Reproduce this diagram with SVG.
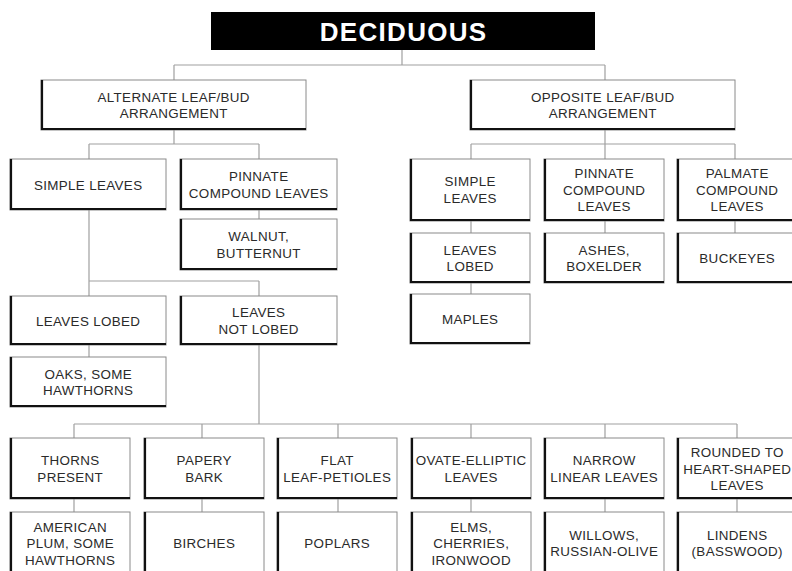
<svg xmlns="http://www.w3.org/2000/svg" width="792" height="571" viewBox="0 0 792 571">
<style>
  .bg { fill: #ffffff; }
  .box { fill: #ffffff; stroke: #8a8a8a; stroke-width: 1; }
  .sh { fill: none; stroke: #111111; stroke-width: 2.2; }
  .conn { fill: none; stroke: #a0a0a0; stroke-width: 1.2; }
  .t { font-family: "Liberation Sans", Arial, sans-serif; font-size: 13.4px; letter-spacing: 0.35px; fill: #2a2a2a; text-anchor: middle; }
  .title { font-family: "Liberation Sans", Arial, sans-serif; font-size: 26px; font-weight: bold; letter-spacing: 1.3px; fill: #ffffff; text-anchor: middle; }
</style>
<rect class="bg" x="0" y="0" width="792" height="571"/>

<g id="connectors">
  <path class="conn" d="M402,50 V65 M174,65 H605 M174,65 V80 M605,65 V80"/>
  <path class="conn" d="M174,130 V144 M89,144 H259 M89,144 V159 M259,144 V159"/>
  <path class="conn" d="M259,210 V219"/>
  <path class="conn" d="M89,210 V281 M89,281 H259 M89,281 V296 M259,281 V296"/>
  <path class="conn" d="M89,345 V357"/>
  <path class="conn" d="M259,345 V424 M74,424 H737 M74,424 V438 M202,424 V438 M338,424 V438 M471,424 V438 M605,424 V438 M737,424 V438"/>
  <path class="conn" d="M74,499 V512 M202,499 V512 M338,499 V512 M471,499 V512 M605,499 V512 M737,499 V512"/>
  <path class="conn" d="M605,130 V144 M471,144 H735 M471,144 V159 M605,144 V159 M735,144 V159"/>
  <path class="conn" d="M471,221 V233 M605,221 V233 M735,221 V233 M471,283 V294"/>
</g>

<g id="deciduous">
  <rect x="211" y="12" width="384" height="38" fill="#000000"/>
  <text class="title" x="403.6" y="41">DECIDUOUS</text>
</g>

<g id="alternate">
  <rect class="box" x="41" y="80" width="265" height="50"/>
  <path class="sh" d="M42,80 V129 H306"/>
  <text class="t" x="173.7" y="101.8">ALTERNATE LEAF/BUD</text>
  <text class="t" x="173.7" y="118.3">ARRANGEMENT</text>
</g>

<g id="opposite">
  <rect class="box" x="470" y="80" width="265" height="50"/>
  <path class="sh" d="M471,80 V129 H735"/>
  <text class="t" x="602.7" y="101.8">OPPOSITE LEAF/BUD</text>
  <text class="t" x="602.7" y="118.3">ARRANGEMENT</text>
</g>

<g id="alt-simple">
  <rect class="box" x="10" y="159" width="156" height="51"/>
  <path class="sh" d="M11,159 V209 H166"/>
  <text class="t" x="88.2" y="189.5">SIMPLE LEAVES</text>
</g>

<g id="alt-pinnate">
  <rect class="box" x="180" y="159" width="157" height="51"/>
  <path class="sh" d="M181,159 V209 H337"/>
  <text class="t" x="258.7" y="181.3">PINNATE</text>
  <text class="t" x="258.7" y="197.8">COMPOUND LEAVES</text>
</g>

<g id="walnut">
  <rect class="box" x="180" y="219" width="157" height="51"/>
  <path class="sh" d="M181,219 V269 H337"/>
  <text class="t" x="258.7" y="241.3">WALNUT,</text>
  <text class="t" x="258.7" y="257.8">BUTTERNUT</text>
</g>

<g id="alt-lobed">
  <rect class="box" x="10" y="296" width="156" height="49"/>
  <path class="sh" d="M11,296 V344 H166"/>
  <text class="t" x="88.2" y="325.5">LEAVES LOBED</text>
</g>

<g id="alt-not-lobed">
  <rect class="box" x="180" y="296" width="157" height="49"/>
  <path class="sh" d="M181,296 V344 H337"/>
  <text class="t" x="258.7" y="317.3">LEAVES</text>
  <text class="t" x="258.7" y="333.8">NOT LOBED</text>
</g>

<g id="oaks">
  <rect class="box" x="10" y="357" width="156" height="50"/>
  <path class="sh" d="M11,357 V406 H166"/>
  <text class="t" x="88.2" y="378.8">OAKS, SOME</text>
  <text class="t" x="88.2" y="395.3">HAWTHORNS</text>
</g>

<g id="opp-simple">
  <rect class="box" x="410" y="159" width="120" height="62"/>
  <path class="sh" d="M411,159 V220 H530"/>
  <text class="t" x="470.2" y="186.3">SIMPLE</text>
  <text class="t" x="470.2" y="202.8">LEAVES</text>
</g>

<g id="opp-pinnate">
  <rect class="box" x="544" y="159" width="120" height="62"/>
  <path class="sh" d="M545,159 V220 H664"/>
  <text class="t" x="604.2" y="178.3">PINNATE</text>
  <text class="t" x="604.2" y="194.8">COMPOUND</text>
  <text class="t" x="604.2" y="211.3">LEAVES</text>
</g>

<g id="opp-palmate">
  <rect class="box" x="677" y="159" width="120" height="62"/>
  <path class="sh" d="M678,159 V220 H797"/>
  <text class="t" x="737.2" y="178.3">PALMATE</text>
  <text class="t" x="737.2" y="194.8">COMPOUND</text>
  <text class="t" x="737.2" y="211.3">LEAVES</text>
</g>

<g id="opp-lobed">
  <rect class="box" x="410" y="233" width="120" height="50"/>
  <path class="sh" d="M411,233 V282 H530"/>
  <text class="t" x="470.2" y="254.8">LEAVES</text>
  <text class="t" x="470.2" y="271.3">LOBED</text>
</g>

<g id="ashes">
  <rect class="box" x="544" y="233" width="120" height="50"/>
  <path class="sh" d="M545,233 V282 H664"/>
  <text class="t" x="604.2" y="254.8">ASHES,</text>
  <text class="t" x="604.2" y="271.3">BOXELDER</text>
</g>

<g id="buckeyes">
  <rect class="box" x="677" y="233" width="120" height="50"/>
  <path class="sh" d="M678,233 V282 H797"/>
  <text class="t" x="737.2" y="263">BUCKEYES</text>
</g>

<g id="maples">
  <rect class="box" x="410" y="294" width="120" height="50"/>
  <path class="sh" d="M411,294 V343 H530"/>
  <text class="t" x="470.2" y="324">MAPLES</text>
</g>

<g id="thorns">
  <rect class="box" x="10" y="438" width="120" height="61"/>
  <path class="sh" d="M11,438 V498 H130"/>
  <text class="t" x="70.2" y="465.3">THORNS</text>
  <text class="t" x="70.2" y="481.8">PRESENT</text>
</g>

<g id="papery">
  <rect class="box" x="144" y="438" width="120" height="61"/>
  <path class="sh" d="M145,438 V498 H264"/>
  <text class="t" x="204.2" y="465.3">PAPERY</text>
  <text class="t" x="204.2" y="481.8">BARK</text>
</g>

<g id="flat">
  <rect class="box" x="277" y="438" width="120" height="61"/>
  <path class="sh" d="M278,438 V498 H397"/>
  <text class="t" x="337.2" y="465.3">FLAT</text>
  <text class="t" x="337.2" y="481.8">LEAF-PETIOLES</text>
</g>

<g id="ovate">
  <rect class="box" x="411" y="438" width="120" height="61"/>
  <path class="sh" d="M412,438 V498 H531"/>
  <text class="t" x="471.2" y="465.3">OVATE-ELLIPTIC</text>
  <text class="t" x="471.2" y="481.8">LEAVES</text>
</g>

<g id="narrow">
  <rect class="box" x="544" y="438" width="120" height="61"/>
  <path class="sh" d="M545,438 V498 H664"/>
  <text class="t" x="604.2" y="465.3">NARROW</text>
  <text class="t" x="604.2" y="481.8">LINEAR LEAVES</text>
</g>

<g id="rounded">
  <rect class="box" x="677" y="438" width="120" height="61"/>
  <path class="sh" d="M678,438 V498 H797"/>
  <text class="t" x="737.2" y="457">ROUNDED TO</text>
  <text class="t" x="737.2" y="473.5">HEART-SHAPED</text>
  <text class="t" x="737.2" y="490">LEAVES</text>
</g>

<g id="american-plum">
  <rect class="box" x="10" y="512" width="120" height="62"/>
  <path class="sh" d="M11,512 V573 H130"/>
  <text class="t" x="70.2" y="531.8">AMERICAN</text>
  <text class="t" x="70.2" y="548.3">PLUM, SOME</text>
  <text class="t" x="70.2" y="564.8">HAWTHORNS</text>
</g>

<g id="birches">
  <rect class="box" x="144" y="512" width="120" height="62"/>
  <path class="sh" d="M145,512 V573 H264"/>
  <text class="t" x="204.2" y="548.3">BIRCHES</text>
</g>

<g id="poplars">
  <rect class="box" x="277" y="512" width="120" height="62"/>
  <path class="sh" d="M278,512 V573 H397"/>
  <text class="t" x="337.2" y="548.3">POPLARS</text>
</g>

<g id="elms">
  <rect class="box" x="411" y="512" width="120" height="62"/>
  <path class="sh" d="M412,512 V573 H531"/>
  <text class="t" x="471.2" y="531.8">ELMS,</text>
  <text class="t" x="471.2" y="548.3">CHERRIES,</text>
  <text class="t" x="471.2" y="564.8">IRONWOOD</text>
</g>

<g id="willows">
  <rect class="box" x="544" y="512" width="120" height="62"/>
  <path class="sh" d="M545,512 V573 H664"/>
  <text class="t" x="604.2" y="539.8">WILLOWS,</text>
  <text class="t" x="604.2" y="556.3">RUSSIAN-OLIVE</text>
</g>

<g id="lindens">
  <rect class="box" x="677" y="512" width="120" height="62"/>
  <path class="sh" d="M678,512 V573 H797"/>
  <text class="t" x="737.2" y="539.8">LINDENS</text>
  <text class="t" x="737.2" y="556.3">(BASSWOOD)</text>
</g>
</svg>
